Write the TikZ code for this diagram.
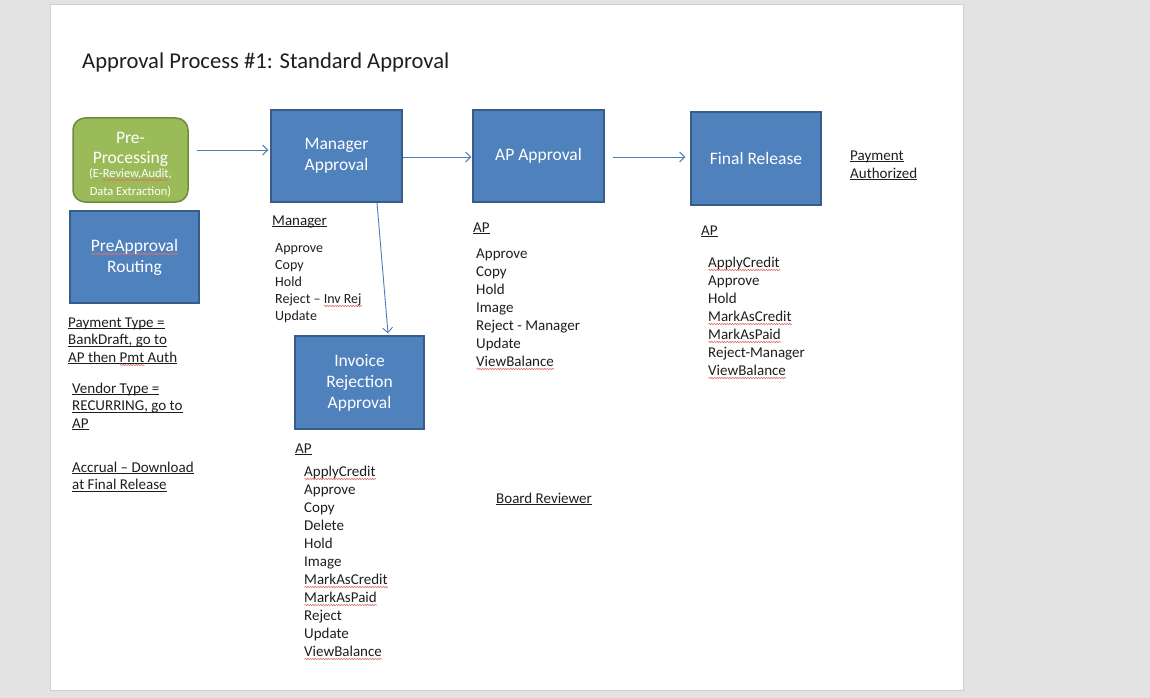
\documentclass[tikz,border=0pt]{standalone}
\usepackage{fontspec}
\setmainfont{Carlito}
\usetikzlibrary{arrows.meta,decorations.pathmorphing}
\definecolor{bgray}{HTML}{E3E3E3}
\definecolor{pageedge}{HTML}{CFCFCF}
\definecolor{boxblue}{HTML}{4F81BD}
\definecolor{boxblueedge}{HTML}{385D8A}
\definecolor{boxgreen}{HTML}{9BBB59}
\definecolor{boxgreenedge}{HTML}{71893F}
\definecolor{arrowblue}{HTML}{4A7EBB}
\definecolor{sqred}{HTML}{E07070}
\definecolor{txt}{HTML}{1E1E1E}
\newsavebox\sqbox
\newsavebox\ulnbox
\newcommand\squig[1]{\sbox\sqbox{#1}\rlap{\tikz[baseline=0pt,x=1pt,y=1pt]\draw[sqred,sharp corners,line width=0.6pt,decorate,decoration={zigzag,segment length=2.6pt,amplitude=0.7pt}] (0,-2.8) -- (\the\wd\sqbox,-2.8);}\usebox\sqbox}
\newcommand\uln[1]{\sbox\ulnbox{#1}\rlap{\rule[-0.14em]{\wd\ulnbox}{0.065em}}\usebox\ulnbox}
\newcommand\smallf{\fontsize{12.5}{16}\selectfont}
\tikzset{
  bluebox/.style={draw=boxblueedge, fill=boxblue, line width=1.5pt, text=white, align=center,
    minimum width=131pt, minimum height=92pt, inner sep=2pt, font=\fontsize{17.5}{21}\selectfont},
  greenbox/.style={draw=boxgreenedge, fill=boxgreen, line width=1.5pt, rounded corners=12pt,
    text=white, align=center, minimum width=115pt, minimum height=84pt, inner sep=2pt,
    font=\fontsize{17.5}{20}\selectfont},
  flow/.style={draw=arrowblue, line width=0.9pt, -{Straight Barb[length=5pt,width=10pt]}},
  lbl/.style={anchor=base west, inner sep=0pt, text=txt, font=\fontsize{15}{18}\selectfont},
  lst/.style={anchor=north west, inner sep=0pt, text=txt, align=left, font=\fontsize{15}{18}\selectfont},
  lstsmall/.style={lst, font=\fontsize{14}{17}\selectfont},
  notes/.style={lst, font=\fontsize{15}{17.5}\selectfont},
}
\begin{document}
\begin{tikzpicture}[x=1pt,y=-1pt]
  % background and page
  \fill[bgray] (0,0) rectangle (1150,698);
  \draw[pageedge, fill=white, line width=1pt] (50,5) rectangle (963,690);
  \useasboundingbox (0,0) rectangle (1150,698);

  % title
  \node[lbl, font=\fontsize{22.6}{26}\selectfont] (title) at (82,69) {Approval Process \#1: Standard Approval};

  % boxes
  \node[greenbox, inner ysep=0pt] (pre) at (130.5,160) {\rule{0pt}{20pt}Pre-\\[0pt]Processing\\[-6pt]\smallf(E-\squig{Review,Audit},\\[-2pt]\smallf Data Extraction)};
  \node[bluebox, minimum width=129pt] (preapp) at (134.5,257) {\squig{PreApproval}\\Routing};
  \node[bluebox] (mgr) at (336.5,156) {Manager\\Approval};
  \node[bluebox] (ap) at (538.5,156) {AP Approval};
  \node[bluebox, minimum width=130pt, minimum height=93pt] (fr) at (756,158.5) {Final Release};
  \node[bluebox, minimum width=129pt, minimum height=93pt] (inv) at (359.5,382.5) {Invoice\\Rejection\\Approval};

  % connectors
  \draw[flow] ([shift={(8,-10)}]pre.east) -- ([shift={(-2,-6)}]mgr.west);
  \draw[flow] ([shift={(0,1)}]mgr.east) -- ([shift={(-1,1)}]ap.west);
  \draw[flow] ([shift={(8,1)}]ap.east) -- ([shift={(-5,-1.5)}]fr.west);
  \draw[flow] ([xshift=40.5pt]mgr.south) -- ([shift={(28.5,-2)}]inv.north);

  % manager roles
  \node[lbl] (mgrlbl) at (272,225) {\uln{Manager}};
  \node[lstsmall] (mgrlist) at (275,240.1) {\strut Approve\\Copy\\Hold\\Reject -- \squig{Inv Rej}\\Update};

  % left notes
  \node[notes] (paytype) at (68,314.75) {\strut\uln{Payment Type =}\\\uln{BankDraft, go to}\\\uln{AP then \squig{Pmt} Auth}};
  \node[notes] (vendtype) at (72,380.75) {\strut\uln{Vendor Type =}\\\uln{RECURRING, go to}\\\uln{AP}};
  \node[notes] (accrual) at (72,459.75) {\strut\uln{Accrual -- Download}\\\uln{at Final Release}};

  % invoice rejection roles
  \node[lbl] (invlbl) at (295,453) {\uln{AP}};
  \node[lst] (invlist) at (304,463.4) {\strut\squig{ApplyCredit}\\Approve\\Copy\\Delete\\Hold\\Image\\\squig{MarkAsCredit}\\\squig{MarkAsPaid}\\Reject\\Update\\\squig{ViewBalance}};

  % board reviewer
  \node[lbl] (board) at (496,503) {\uln{Board Reviewer}};

  % AP approval roles
  \node[lbl] (aplbl) at (473,232) {\uln{AP}};
  \node[lst] (aplist) at (476,245.4) {\strut Approve\\Copy\\Hold\\Image\\Reject - Manager\\Update\\\squig{ViewBalance}};

  % final release roles
  \node[lbl] (frlbl) at (701,235) {\uln{AP}};
  \node[lst] (frlist) at (708,254.4) {\strut\squig{ApplyCredit}\\Approve\\Hold\\\squig{MarkAsCredit}\\\squig{MarkAsPaid}\\Reject-Manager\\\squig{ViewBalance}};

  % payment authorized
  \node[lst] (payauth) at (850,147.4) {\strut\uln{Payment}\\\uln{Authorized}};
\end{tikzpicture}
\end{document}
